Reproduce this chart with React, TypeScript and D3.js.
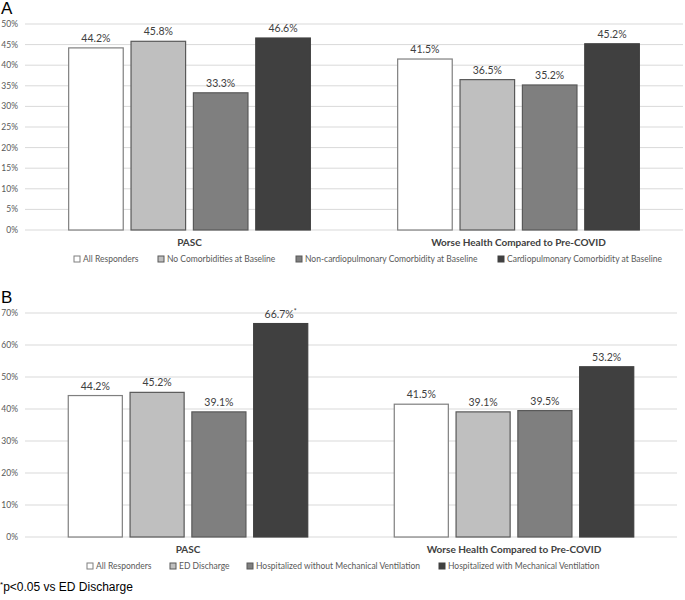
import React from "react";
import * as d3 from "d3";

const categories = ["PASC", "Worse Health Compared to Pre-COVID"];

const seriesA = [
  "All Responders",
  "No Comorbidities at Baseline",
  "Non-cardiopulmonary Comorbidity at Baseline",
  "Cardiopulmonary Comorbidity at Baseline",
];
const valuesA = [
  [44.2, 45.8, 33.3, 46.6],
  [41.5, 36.5, 35.2, 45.2],
];
const ticksA = [0, 5, 10, 15, 20, 25, 30, 35, 40, 45, 50];

const seriesB = [
  "All Responders",
  "ED Discharge",
  "Hospitalized without Mechanical Ventilation",
  "Hospitalized with Mechanical Ventilation",
];
const valuesB = [
  [44.2, 45.2, 39.1, 66.7],
  [41.5, 39.1, 39.5, 53.2],
];
const starsB = [
  [false, false, false, true],
  [false, false, false, false],
];
const ticksB = [0, 10, 20, 30, 40, 50, 60, 70];

const colors = ["#ffffff", "#bfbfbf", "#7f7f7f", "#404040"];
const strokes = ["#7f7f7f", "#595959", "#595959", "#404040"];

const FONT = "Lato, 'Open Sans', sans-serif";

type PanelProps = {
  label: string;
  series: string[];
  values: number[][];
  stars?: boolean[][];
  ticks: number[];
  top: number;
  bottom: number;
  left: number;
  right: number;
  legendX: number[];
};

function Panel(p: PanelProps) {
  const yMax = p.ticks[p.ticks.length - 1];
  const y = d3.scaleLinear().domain([0, yMax]).range([p.bottom, p.top]);
  const x0 = d3.scaleBand<string>().domain(categories).range([p.left, p.right]);
  const x1 = d3
    .scaleBand<string>()
    .domain(p.series)
    .range([0, x0.bandwidth()])
    .paddingInner(0.125)
    .paddingOuter(0.7);
  const catY = p.bottom + 16;
  const legY = p.bottom + 32;
  return (
    <g>
      <text x={1} y={p.top - 10} fontFamily="Liberation Sans, Arial, sans-serif" fontSize={17} fill="#000">
        {p.label}
      </text>
      {p.ticks.map((t) => (
        <g key={t}>
          <line x1={p.left} x2={p.right} y1={y(t)} y2={y(t)} stroke="#d9d9d9" strokeWidth={1} />
          <text x={p.left - 7} y={y(t)} dy="0.35em" textAnchor="end" fontFamily={FONT} fontSize={8.5} fill="#595959">
            {t}%
          </text>
        </g>
      ))}
      {categories.map((c, ci) => (
        <g key={c} transform={`translate(${x0(c)},0)`}>
          {p.series.map((s, si) => {
            const v = p.values[ci][si];
            const bx = x1(s)!;
            const bw = x1.bandwidth();
            return (
              <g key={s}>
                <rect
                  x={bx}
                  y={y(v)}
                  width={bw}
                  height={p.bottom - y(v)}
                  fill={colors[si]}
                  stroke={strokes[si]}
                  strokeWidth={1.2}
                />
                <text
                  x={bx + bw / 2}
                  y={y(v) - 6}
                  textAnchor="middle"
                  fontFamily={FONT}
                  fontSize={10.5}
                  fill="#404040"
                >
                  {v.toFixed(1)}%
                  {p.stars && p.stars[ci][si] ? (
                    <tspan fontSize={7} dy={-4}>*</tspan>
                  ) : null}
                </text>
              </g>
            );
          })}
          <text
            x={x0.bandwidth() / 2}
            y={catY}
            textAnchor="middle"
            fontFamily={FONT}
            fontWeight="bold"
            fontSize={10}
            fill="#404040"
          >
            {c}
          </text>
        </g>
      ))}
      {p.series.map((s, si) => (
        <g key={s} transform={`translate(${p.legendX[si]},${legY})`}>
          <rect x={0} y={-6} width={6} height={6} fill={colors[si]} stroke={strokes[si]} strokeWidth={1} />
          <text x={9} y={0} fontFamily={FONT} fontSize={8.5} fill="#595959">
            {s}
          </text>
        </g>
      ))}
    </g>
  );
}

export default function App() {
  return (
    <svg
      width={685}
      height={600}
      style={{ position: "absolute", left: 0, top: 0, background: "#fff" }}
    >
      <Panel
        label="A"
        series={seriesA}
        values={valuesA}
        ticks={ticksA}
        top={24}
        bottom={230}
        left={25}
        right={683}
        legendX={[74, 158, 296, 498]}
      />
      <Panel
        label="B"
        series={seriesB}
        values={valuesB}
        stars={starsB}
        ticks={ticksB}
        top={313}
        bottom={537}
        left={25}
        right={677}
        legendX={[87, 170, 247, 439]}
      />
      <text x={0} y={591} fontFamily="Liberation Sans, Arial, sans-serif" fontSize={12} fill="#000">
        <tspan fontSize={8} dy={-4}>*</tspan>
        <tspan dy={4}>p&lt;0.05 vs ED Discharge</tspan>
      </text>
    </svg>
  );
}
